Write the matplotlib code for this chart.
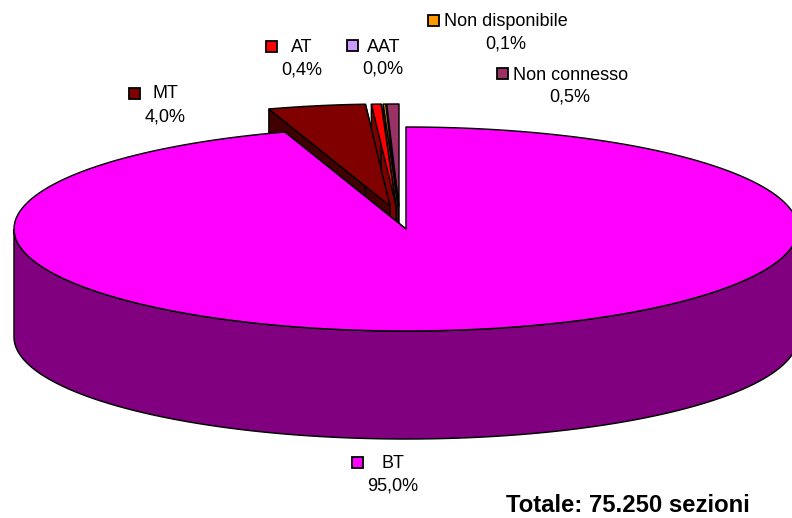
import numpy as np
import matplotlib
matplotlib.use("Agg")
import matplotlib.pyplot as plt
from matplotlib.patches import Polygon, Rectangle

plt.rcParams['font.family'] = ['Liberation Sans', 'DejaVu Sans']

categories = ['BT', 'MT', 'AT', 'AAT', 'Non disponibile', 'Non connesso']
values = [95.0, 4.0, 0.4, 0.0, 0.1, 0.5]
labels = ['95,0%', '4,0%', '0,4%', '0,0%', '0,1%', '0,5%']
top_colors = ['#FF00FF', '#800000', '#FF0000', '#CC99FF', '#FF9900', '#993366']
side_colors = ['#800080', '#400000', '#800000', '#664C80', '#804C00', '#4C1933']
# pixel position of each exploded slice's apex, and of its label/marker
apex = [(406, 229), (390, 206), (396, 206), (397, 206), (398, 206), (399, 206)]
marker_xy = [(352, 457), (129, 88), (266, 41), (347, 40), (428, 15), (497, 68)]
name_xy = [(393, 463), (165, 94), (302, 48), (384, 47), (506, 22), (571, 75)]
pct_xy = [(393, 486), (165, 117), (302, 70), (383, 69), (506, 44), (570, 97)]
footer = 'Totale: 75.250 sezioni'

RX, RY, DEPTH = 392, 102, 108
W, H = 792, 518
LW = 1.05

fig = plt.figure(figsize=(W / 100, H / 100), dpi=100)
ax = fig.add_axes([0, 0, 1, 1])
ax.set_xlim(0, W)
ax.set_ylim(H, 0)
ax.axis('off')


def rim(a, t0, t1, n=200):
    t = np.radians(np.linspace(t0, t1, n))
    return np.column_stack([a[0] + RX * np.sin(t), a[1] - RY * np.cos(t)])


def draw_slice(a, t0, t1, top, side, z):
    arc = rim(a, t0, t1)
    down = np.array([0, DEPTH])
    # left cut face seen from the front
    for t in (t0, t1):
        edge = rim(a, t, t, 1)[0]
        if 180 < (t % 360) < 360:
            pts = [a, edge, edge + down, np.array(a) + down]
            ax.add_patch(Polygon(pts, fc=side, ec='black', lw=LW, zorder=z))
    # visible outer wall: front half of the rim
    t = np.linspace(t0, t1, 400)
    mask = np.cos(np.radians(t)) <= 0
    if mask.any():
        front = rim(a, t[mask][0], t[mask][-1], 300)
        wall = np.vstack([front, (front + down)[::-1]])
        ax.add_patch(Polygon(wall, fc=side, ec='black', lw=LW, zorder=z))
    ax.add_patch(Polygon(np.vstack([[a], arc]), fc=top, ec='black', lw=LW,
                         zorder=z + 0.5, joinstyle='round'))


# slices run clockwise from the top; painted back to front
starts = np.cumsum([0] + values[:-1]) * 3.6
order = [5, 4, 3, 2, 1, 0]
for k, i in enumerate(order):
    if values[i] > 0:
        draw_slice(apex[i], starts[i], starts[i] + values[i] * 3.6,
                   top_colors[i], side_colors[i], 2 + k)

for i, name in enumerate(categories):
    x, y = marker_xy[i]
    ax.add_patch(Rectangle((x, y), 11, 11, fc=top_colors[i], ec='black', lw=1.3, zorder=20))
    ax.text(*name_xy[i], name, ha='center', va='center', fontsize=13, color='black', zorder=20)
    ax.text(*pct_xy[i], labels[i], ha='center', va='center', fontsize=13, color='black', zorder=20)

ax.text(628, 505, footer, ha='center', va='center', fontsize=17.2,
        fontweight='bold', color='black', zorder=20)

fig.savefig('out.png', dpi=100)
